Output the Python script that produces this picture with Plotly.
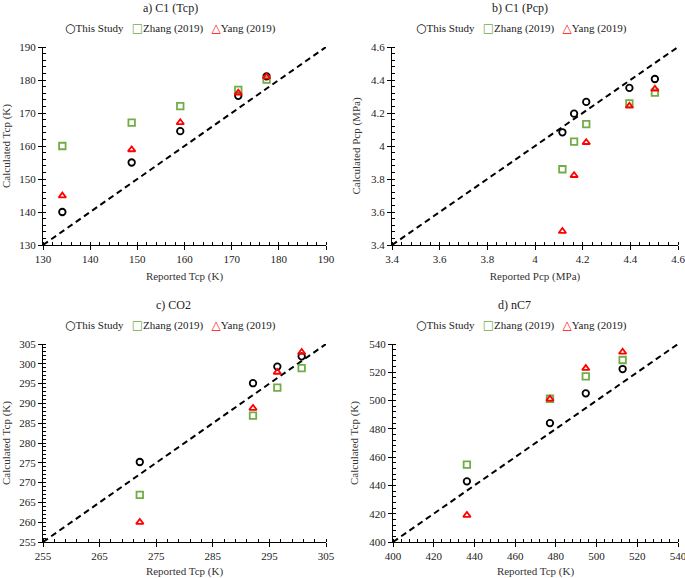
import plotly.graph_objects as go

# ---------------- data ----------------
panel_titles = ["a) C1 (Tcp)", "b) C1 (Pcp)", "c) CO2", "d) nC7"]
x_titles = ["Reported Tcp (K)", "Reported Pcp (MPa)", "Reported Tcp (K)", "Reported Tcp (K)"]
y_titles = ["Calculated Tcp (K)", "Calculated Pcp (MPa)", "Calculated Tcp (K)", "Calculated Tcp (K)"]
series_names = ["This Study", "Zhang (2019)", "Yang (2019)"]

# a) C1 (Tcp)
a_reported = [134.1, 148.8, 159.1, 171.4, 177.4]
a_this = [140.0, 155.0, 164.5, 175.2, 181.1]
a_zhang = [160.0, 167.1, 172.1, 177.0, 180.1]
a_yang = [144.9, 158.9, 167.1, 176.1, 181.0]

# b) C1 (Pcp)
b_reported = [4.115, 4.164, 4.215, 4.396, 4.503]
b_this = [4.083, 4.196, 4.267, 4.352, 4.406]
b_zhang = [3.859, 4.026, 4.133, 4.258, 4.323]
b_yang = [3.483, 3.822, 4.022, 4.242, 4.345]

# c) CO2
c_reported = [272.1, 292.1, 296.4, 300.7]
c_this = [275.2, 295.1, 299.3, 301.9]
c_zhang = [266.9, 286.9, 294.0, 298.9]
c_yang = [260.0, 288.8, 297.9, 302.9]

# d) nC7
d_reported = [436.3, 477.1, 494.7, 512.8]
d_this = [442.9, 484.1, 505.1, 522.3]
d_zhang = [454.7, 501.3, 517.1, 528.7]
d_yang = [418.9, 501.1, 522.8, 534.3]

# axis ranges / ticks
ranges = [[130, 190], [3.4, 4.6], [255, 305], [400, 540]]
x_dticks = [10, 0.2, 10, 20]
y_dticks = [10, 0.2, 5, 20]
x_minor = [2, 0.04, 2, 4]
y_minor = [2, 0.04, 1, 4]

# ---------------- styling ----------------
W, H = 685, 578
FONT = "Liberation Serif, Times New Roman, serif"
colors = ["#000000", "#70AD47", "#FF0000"]
symbols = ["circle-open", "square-open", "triangle-up-open"]
legend_glyphs = ["\u25CB", "\u25A1", "\u25B3"]

# plot areas in pixels: (left, right, top, bottom)
boxes = [(43, 326, 47, 245), (392, 678, 47, 245), (43, 326, 344, 542), (393, 678, 344, 542)]
# title / legend centres in pixels
title_cx = [170, 520, 173, 514]
legend_cx = [170, 521, 170, 521]

data = [
    (a_reported, [a_this, a_zhang, a_yang]),
    (b_reported, [b_this, b_zhang, b_yang]),
    (c_reported, [c_this, c_zhang, c_yang]),
    (d_reported, [d_this, d_zhang, d_yang]),
]

fig = go.Figure()
layout = dict(
    width=W, height=H,
    margin=dict(l=0, r=0, t=0, b=0, autoexpand=False),
    paper_bgcolor="white", plot_bgcolor="white",
    font=dict(family=FONT, size=11, color="#222222"),
    showlegend=False,
    annotations=[],
)

for i, (xr, ys) in enumerate(data):
    n = i + 1
    xa = "x" if n == 1 else f"x{n}"
    ya = "y" if n == 1 else f"y{n}"
    # 1:1 line
    fig.add_trace(go.Scatter(
        x=ranges[i], y=ranges[i], mode="lines", xaxis=xa, yaxis=ya,
        line=dict(color="black", width=2, dash="6px,4px"),
        showlegend=False, hoverinfo="skip", cliponaxis=False))
    for k, name in enumerate(series_names):
        fig.add_trace(go.Scatter(
            x=xr, y=ys[k], mode="markers", name=name, xaxis=xa, yaxis=ya,
            cliponaxis=False,
            marker=dict(symbol=symbols[k], size=6.5, color=colors[k],
                        line=dict(width=1.8, color=colors[k]))))

    l, r, t, b = boxes[i]
    xdom = [l / W, r / W]
    ydom = [1 - b / H, 1 - t / H]
    xkey = "xaxis" if n == 1 else f"xaxis{n}"
    ykey = "yaxis" if n == 1 else f"yaxis{n}"
    common = dict(
        showgrid=False, zeroline=False, showline=True, linecolor="black", linewidth=1,
        ticks="outside", ticklen=4, tickcolor="black", tickwidth=1,
        tickfont=dict(family=FONT, size=11, color="#222222"),
        range=ranges[i], tick0=ranges[i][0], mirror=False, automargin=False,
        ticklabeloverflow="allow",
    )
    layout[xkey] = dict(common, domain=xdom, anchor=ya, dtick=x_dticks[i],
                        minor=dict(dtick=x_minor[i], tick0=ranges[i][0], ticks="inside",
                                   ticklen=3, tickcolor="black", tickwidth=1),
                        title=dict(text=x_titles[i], standoff=8,
                                   font=dict(family=FONT, size=11, color="#333333")))
    layout[ykey] = dict(common, domain=ydom, anchor=xa, dtick=y_dticks[i],
                        minor=dict(dtick=y_minor[i], tick0=ranges[i][0], ticks="inside",
                                   ticklen=3, tickcolor="black", tickwidth=1),
                        title=dict(text=y_titles[i], standoff=8,
                                   font=dict(family=FONT, size=11, color="#333333")))
    # panel title
    layout["annotations"].append(dict(
        text=panel_titles[i], x=title_cx[i] / W, y=1 - (t - 39) / H,
        xref="paper", yref="paper", xanchor="center", yanchor="middle", showarrow=False,
        font=dict(family=FONT, size=12, color="#222222")))
    # legend row
    parts = []
    for k, name in enumerate(series_names):
        parts.append(
            f"<span style='color:{colors[k]};font-family:DejaVu Sans;font-weight:bold;font-size:12px'>"
            f"<b>{legend_glyphs[k]}</b></span>{name}")
    legend_text = "\u00a0\u00a0\u00a0".join(parts)
    layout["annotations"].append(dict(
        text=legend_text, x=legend_cx[i] / W, y=1 - (t - 19) / H,
        xref="paper", yref="paper", xanchor="center", yanchor="middle", showarrow=False,
        font=dict(family=FONT, size=11, color="#222222")))

fig.update_layout(**layout)
fig.write_html("out.html", config={"displayModeBar": False},
               post_script="document.body.style.margin='0px';")
